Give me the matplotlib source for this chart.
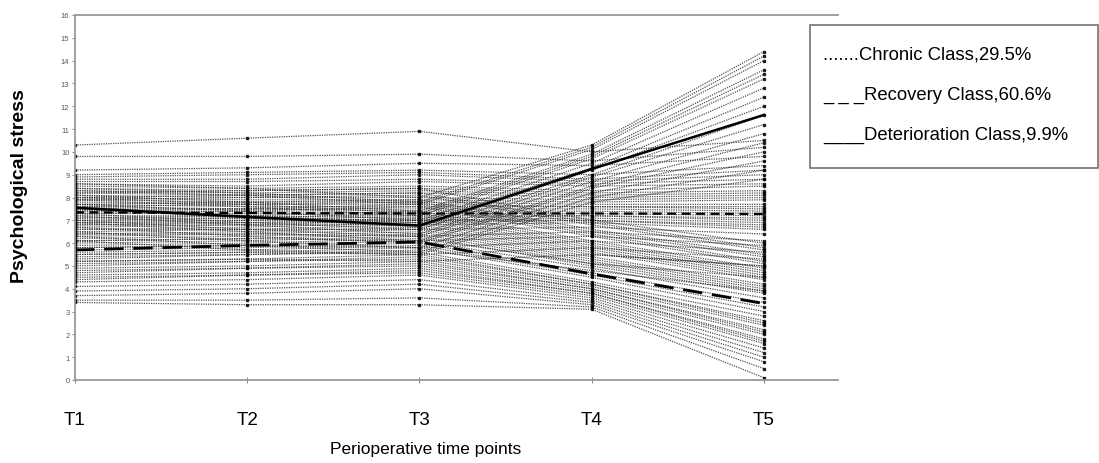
"""
Latent trajectory classes of perioperative psychological stress.
"""
import matplotlib.pyplot as plt
from matplotlib.patches import Rectangle
from matplotlib import font_manager

# time points
time_labels = ['T1', 'T2', 'T3', 'T4', 'T5']
time_pos = [1, 2, 3, 4, 5]

# class mean trajectories
chronic_mean = [7.35, 7.32, 7.30, 7.30, 7.28]
recovery_mean = [5.70, 5.90, 6.05, 4.65, 3.35]
deterioration_mean = [7.55, 7.15, 6.77, 9.25, 11.62]

legend_labels = ['.......Chronic Class,29.5%',
                 '_ _ _Recovery Class,60.6%',
                 '____Deterioration Class,9.9%']

# individual trajectories (T1..T5)
chronic_ind = [
    [10.3, 10.6, 10.9, 10.0, 10.5],
    [9.8, 9.8, 9.9, 9.6, 10.2],
    [9.2, 9.3, 9.5, 9.4, 9.8],
    [9.0, 9.1, 9.2, 9.0, 9.4],
    [8.9, 9.0, 9.1, 8.8, 9.2],
    [8.8, 8.8, 9.0, 8.7, 9.0],
    [8.7, 8.7, 8.8, 8.6, 8.8],
    [8.6, 8.5, 8.7, 8.5, 8.6],
    [8.5, 8.4, 8.5, 8.3, 8.5],
    [8.4, 8.3, 8.4, 8.2, 8.3],
    [8.3, 8.2, 8.3, 8.1, 8.2],
    [8.2, 8.1, 8.2, 8.0, 8.1],
    [8.1, 8.0, 8.0, 7.9, 8.0],
    [8.0, 7.9, 7.9, 7.8, 7.9],
    [7.9, 7.8, 7.8, 7.7, 7.7],
    [7.8, 7.7, 7.7, 7.6, 7.6],
    [7.7, 7.6, 7.6, 7.6, 7.5],
    [7.6, 7.5, 7.5, 7.5, 7.4],
    [7.5, 7.5, 7.4, 7.4, 7.3],
    [7.4, 7.4, 7.3, 7.3, 7.2],
    [7.3, 7.3, 7.2, 7.2, 7.1],
    [7.2, 7.2, 7.1, 7.2, 7.0],
    [7.1, 7.1, 7.0, 7.1, 6.9],
    [7.0, 7.0, 7.0, 7.0, 6.8],
    [6.9, 6.9, 6.9, 7.0, 6.7],
    [6.8, 6.8, 6.8, 6.9, 6.6],
    [6.6, 6.6, 6.6, 6.7, 6.4],
    [6.4, 6.4, 6.3, 6.5, 6.1],
    [6.1, 6.2, 6.1, 6.3, 5.9],
    [5.8, 5.9, 5.8, 6.1, 5.6],
    [5.5, 5.6, 5.5, 5.8, 5.3],
    [5.2, 5.3, 5.2, 5.5, 5.0],
]
recovery_ind = [
    [8.2, 8.3, 8.4, 7.0, 6.0],
    [8.0, 8.1, 8.2, 6.9, 5.8],
    [7.9, 8.0, 8.1, 6.8, 5.7],
    [7.7, 7.8, 7.9, 6.6, 5.5],
    [7.6, 7.7, 7.8, 6.5, 5.4],
    [7.4, 7.5, 7.7, 6.4, 5.2],
    [7.3, 7.4, 7.6, 6.3, 5.1],
    [7.1, 7.2, 7.4, 6.1, 4.9],
    [7.0, 7.1, 7.3, 6.0, 4.8],
    [6.9, 7.0, 7.2, 5.9, 4.7],
    [6.8, 6.9, 7.1, 5.8, 4.6],
    [6.7, 6.8, 7.0, 5.7, 4.5],
    [6.6, 6.7, 6.9, 5.6, 4.4],
    [6.5, 6.6, 6.8, 5.5, 5.0],
    [6.4, 6.5, 6.7, 5.4, 4.2],
    [6.3, 6.4, 6.6, 5.3, 4.1],
    [6.2, 6.3, 6.5, 5.2, 4.0],
    [6.1, 6.2, 6.4, 5.1, 3.9],
    [6.0, 6.1, 6.3, 5.0, 3.8],
    [5.9, 6.0, 6.2, 5.1, 4.5],
    [5.8, 5.9, 6.1, 4.9, 3.6],
    [5.7, 5.8, 6.0, 4.7, 3.4],
    [5.6, 5.7, 5.9, 4.6, 3.2],
    [5.5, 5.6, 5.8, 4.5, 3.0],
    [5.4, 5.5, 5.7, 4.8, 3.9],
    [5.3, 5.5, 5.6, 4.3, 2.8],
    [5.2, 5.3, 5.5, 4.2, 2.6],
    [5.1, 5.2, 5.4, 4.2, 2.5],
    [5.0, 5.2, 5.3, 4.1, 2.4],
    [4.9, 5.0, 5.2, 4.0, 2.2],
    [4.8, 4.9, 5.1, 4.0, 2.1],
    [4.7, 4.9, 5.0, 3.9, 2.0],
    [4.6, 4.7, 4.9, 3.8, 1.8],
    [4.5, 4.6, 4.8, 3.8, 1.7],
    [4.4, 4.6, 4.7, 3.7, 1.6],
    [4.3, 4.4, 4.6, 3.6, 1.4],
    [4.1, 4.2, 4.4, 3.5, 1.2],
    [3.9, 4.0, 4.2, 3.4, 1.0],
    [3.7, 3.8, 4.0, 3.3, 0.8],
    [3.5, 3.5, 3.6, 3.2, 0.5],
    [3.4, 3.3, 3.3, 3.1, 0.1],
]
deterioration_ind = [
    [8.6, 8.4, 8.0, 10.3, 14.4],
    [8.4, 8.2, 7.8, 10.2, 14.2],
    [8.3, 8.1, 7.7, 10.1, 14.0],
    [8.1, 7.8, 7.4, 9.9, 13.6],
    [8.0, 7.7, 7.3, 9.8, 13.4],
    [7.9, 7.6, 7.2, 9.7, 13.2],
    [7.7, 7.4, 7.0, 9.5, 12.8],
    [7.6, 7.2, 6.9, 9.3, 12.4],
    [7.5, 7.1, 6.7, 9.2, 12.0],
    [7.3, 6.9, 6.6, 9.0, 11.6],
    [7.2, 6.8, 6.4, 8.9, 11.2],
    [7.0, 6.6, 6.3, 8.7, 10.8],
    [6.9, 6.5, 6.1, 8.5, 10.4],
    [6.7, 6.3, 6.0, 8.4, 10.0],
    [6.5, 6.1, 5.8, 8.2, 9.6],
    [6.3, 5.9, 5.6, 8.0, 9.2],
    [6.1, 5.7, 5.5, 7.8, 8.8],
]

installed = {f.name for f in font_manager.fontManager.ttflist}
narrow = 'Liberation Sans Narrow' if 'Liberation Sans Narrow' in installed else 'Liberation Sans'
plt.rcParams['font.family'] = ['Liberation Sans', 'DejaVu Sans']

W, H = 1099, 464
fig = plt.figure(figsize=(W / 100, H / 100), dpi=100)
ax = fig.add_axes([75 / W, 1 - 381 / H, (838 - 75) / W, (381 - 16) / H])

# spaghetti of individual trajectories
for traj in chronic_ind + recovery_ind + deterioration_ind:
    ax.plot(time_pos, traj, color='0.15', lw=0.9, ls=(0, (1, 0.9)), alpha=0.8,
            marker='s', ms=1.9, mfc='k', mec='k')

# class means
ax.plot(time_pos, chronic_mean, color='k', lw=1.6, ls=(0, (4, 2.5)))
ax.plot(time_pos, recovery_mean, color='k', lw=2.0, ls=(0, (7, 3.5)))
ax.plot(time_pos, deterioration_mean, color='k', lw=1.8, ls='-')

ax.set_xlim(1, 5.43)
ax.set_ylim(0, 16)
ax.set_yticks(range(0, 17))
ax.tick_params(axis='y', labelsize=5.5, labelcolor='0.35', color='0.55',
               length=2.5, width=0.8, pad=1.5)
ax.set_xticks(time_pos)
ax.set_xticklabels(time_labels, family=narrow, fontsize=13.5)
ax.tick_params(axis='x', color='0.55', direction='inout', length=4,
               width=0.8, pad=20)

for side in ['left', 'bottom', 'top']:
    ax.spines[side].set_color('0.6')
    ax.spines[side].set_linewidth(1.3)
ax.spines['right'].set_visible(False)

fig.text(20 / W, 1 - 186 / H, 'Psychological stress', rotation=90,
         fontsize=14, fontweight='bold', ha='center', va='center')
fig.text(426 / W, 1 - 450 / H, 'Perioperative time points', fontsize=12.5,
         ha='center', va='center')

# legend box with text entries
fig.patches.append(Rectangle((810 / W, 1 - 169 / H), (1099 - 811) / W,
                             (169 - 26) / H, transform=fig.transFigure,
                             fill=False, edgecolor='0.45', lw=1.2))
for i, lab in enumerate(legend_labels):
    fig.text(823 / W, 1 - (55 + 40 * i) / H, lab, fontsize=13.3,
             ha='left', va='center')

fig.savefig('out.png', dpi=100)
